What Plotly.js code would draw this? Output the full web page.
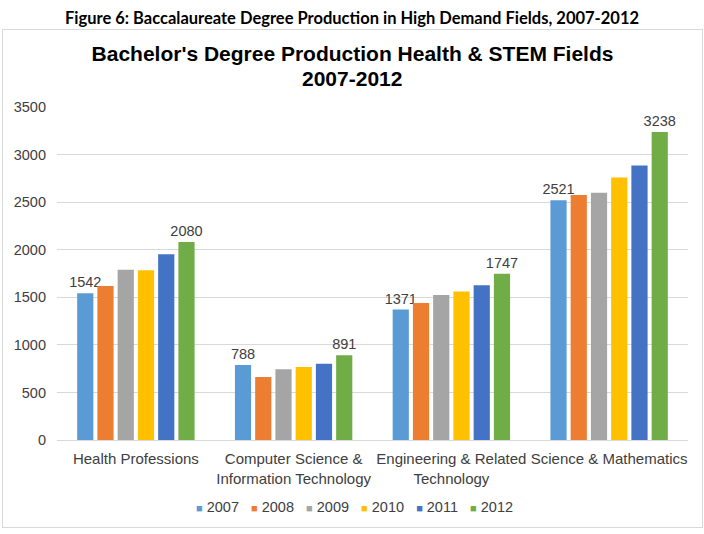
<!DOCTYPE html>
<html><head><meta charset="utf-8">
<script src="https://cdn.plot.ly/plotly-3.0.1.min.js"></script>
<style>
body{margin:0;background:#fff;width:704px;height:534px;position:relative;overflow:hidden}
#cap{position:absolute;left:0;top:9px;width:704px;line-height:18px;text-align:center;font-family:Lato,"Open Sans",sans-serif;font-weight:bold;font-size:16.5px;color:#000}
#chart{position:absolute;left:2px;top:29px;width:701px;height:499px;border:1px solid #d9d9d9;box-sizing:border-box}
</style></head><body>
<div id="cap">Figure 6: Baccalaureate Degree Production in High Demand Fields, 2007-2012</div>
<div id="chart"></div>
<script>
const categories = ["Health Professions","Computer Science &<br>Information Technology","Engineering & Related<br>Technology","Science & Mathematics"];
const years = ["2007","2008","2009","2010","2011","2012"];
const v2007 = [1542, 788, 1371, 2521];
const v2008 = [1619, 662, 1440, 2576];
const v2009 = [1790, 743, 1525, 2600];
const v2010 = [1784, 767, 1560, 2758];
const v2011 = [1953, 802, 1627, 2884];
const v2012 = [2080, 891, 1747, 3238];
const labeledYears = ["2007","2012"];
const titleLine1 = "Bachelor's Degree Production Health & STEM Fields";
const titleLine2 = "2007-2012";
const colors = ["#5B9BD5","#ED7D31","#A5A5A5","#FFC000","#4472C4","#70AD47"];
const series = [v2007,v2008,v2009,v2010,v2011,v2012];
const FONT = "'Liberation Sans', Arial, sans-serif";

const traces = series.map((vals,i)=>({
  type:"bar", name:years[i], x:categories, y:vals,
  marker:{color:colors[i]},
  text: labeledYears.includes(years[i]) ? vals.map(String) : undefined,
  textposition: labeledYears.includes(years[i]) ? "outside" : "none",
  constraintext:"none",
  textfont:{family:FONT, size:14.5, color:"#404040"},
  cliponaxis:false,
  hoverinfo:"none",
  showlegend:false
}));

const legendText = years.map((y,i)=>`<span style="color:${colors[i]};font-size:11px">■</span>&nbsp;${y}`).join("&nbsp;&nbsp;&nbsp;");

const layout = {
  width:699, height:497,
  margin:{l:54,r:14,t:77,b:87},
  paper_bgcolor:"#fff", plot_bgcolor:"#fff",
  font:{family:FONT, size:14.5, color:"#404040"},
  title:{text:"<b>"+titleLine1+"</b>",
    font:{family:FONT, size:21, color:"#000"},
    x:0.5, xanchor:"center", xref:"container", yref:"container", y:0.952, yanchor:"middle"},
  annotations:[
    {text:"<b>"+titleLine2+"</b>", xref:"paper", yref:"paper", x:0.4675, y:1.087, xanchor:"center", yanchor:"middle", showarrow:false, font:{family:FONT,size:21,color:"#000"}},
    {text:legendText, xref:"paper", yref:"paper", x:0.472, y:-0.201, xanchor:"center", yanchor:"middle", showarrow:false, font:{family:FONT,size:14.5,color:"#404040"}}
  ],
  barmode:"group", bargap:0.23, bargroupgap:0.2,
  xaxis:{showgrid:false, showline:true, linecolor:"#d9d9d9", ticks:"", tickfont:{size:15,color:"#404040"}, ticklabelstandoff:5},
  yaxis:{range:[0,3500], dtick:500, showgrid:true, gridcolor:"#d9d9d9", zeroline:false, showline:false, ticks:"", tickfont:{size:14.5,color:"#404040"}, ticklabelstandoff:10},
  showlegend:false
};
Plotly.newPlot("chart", traces, layout, {displayModeBar:false, staticPlot:true});
</script>
</body></html>
